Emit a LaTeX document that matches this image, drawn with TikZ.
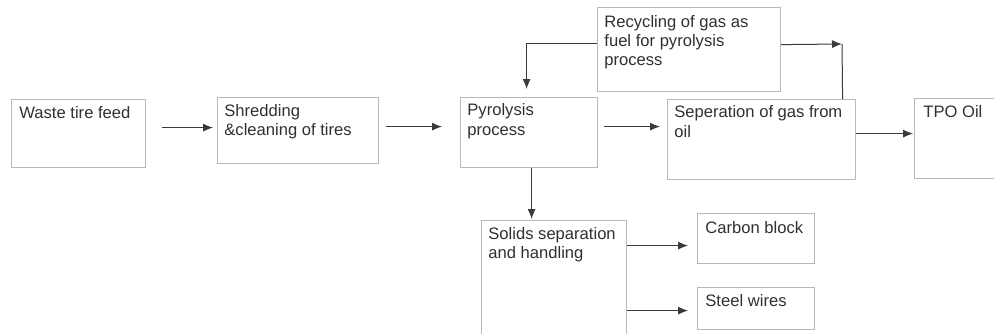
\documentclass[tikz,border=0pt]{standalone}
\usepackage{fontspec}
\setmainfont{Liberation Sans}
\usetikzlibrary{arrows.meta}
\definecolor{boxgray}{HTML}{B8B8B8}
\definecolor{txtgray}{HTML}{303030}
\definecolor{arrgray}{HTML}{3A3A3A}
\begin{document}
\begin{tikzpicture}[x=0.5pt,y=-0.5pt,
  box/.style={draw=boxgray, line width=0.6pt, rectangle, inner sep=0pt, anchor=north west},
  lbl/.style={anchor=north west, inner sep=0pt, align=left, text=txtgray,
    font=\fontsize{8.3pt}{9.6pt}\selectfont},
  arr/.style={draw=arrgray, line width=0.5pt, -{Latex[length=5pt,width=4pt]}},
  ln/.style={draw=arrgray, line width=0.5pt}]
\useasboundingbox (0,0) rectangle (994,333);
\begin{scope}
\clip (0,0) rectangle (994,333);
% boxes
\node[box, minimum width=67pt, minimum height=34pt] (feed) at (11,99) {};
\node[box, minimum width=80.5pt, minimum height=33pt] (shred) at (217,97) {};
\node[box, minimum width=68.5pt, minimum height=35pt] (pyr) at (460,97) {};
\node[box, minimum width=91.5pt, minimum height=42pt] (rec) at (597,7) {};
\node[box, minimum width=94pt, minimum height=40pt] (sep) at (667,99) {};
\node[box, minimum width=48pt, minimum height=40pt] (tpo) at (914,98) {};
\node[box, minimum width=72.5pt, minimum height=62.5pt] (sol) at (481,220) {};
\node[box, minimum width=58.5pt, minimum height=25pt] (carb) at (697,213) {};
\node[box, minimum width=58.5pt, minimum height=21pt] (steel) at (697,287) {};
% labels
\node[lbl] (tfeed) at ([xshift=4pt,yshift=-2.78pt]feed.north west) {\strut Waste tire feed};
\node[lbl] (tshred) at ([xshift=3.5pt,yshift=-2.78pt]shred.north west) {\strut Shredding\\\&cleaning of tires};
\node[lbl] (tpyr) at ([xshift=3.5pt,yshift=-2.48pt]pyr.north west) {\strut Pyrolysis\\process};
\node[lbl] (trec) at ([xshift=3.5pt,yshift=-3.28pt]rec.north west) {\strut Recycling of gas as\\fuel for pyrolysis\\process};
\node[lbl] (tsep) at ([xshift=3.5pt,yshift=-2.48pt]sep.north west) {\strut Seperation of gas from\\oil};
\node[lbl] (ttpo) at ([xshift=4.5pt,yshift=-2.78pt]tpo.north west) {\strut TPO Oil};
\node[lbl] (tsol) at ([xshift=3.5pt,yshift=-2.78pt]sol.north west) {\strut Solids separation\\and handling};
\node[lbl] (tcarb) at ([xshift=4pt,yshift=-3.28pt]carb.north west) {\strut Carbon block};
\node[lbl] (tsteel) at ([xshift=4pt,yshift=-2.78pt]steel.north west) {\strut Steel wires};
% connectors
\draw[arr] ([xshift=8pt,yshift=3pt]feed.east) -- ([xshift=-2pt,yshift=1.5pt]shred.west);
\draw[arr] ([xshift=3.5pt,yshift=2pt]shred.east) -- ([xshift=-9pt,yshift=3pt]pyr.west);
\draw[arr] ([xshift=3pt,yshift=3pt]pyr.east) -- ([xshift=-3.5pt,yshift=6.5pt]sep.west);
\draw[arr] ([yshift=3pt]sep.east) -- ([xshift=-0.5pt,yshift=2.5pt]tpo.west);
\draw[arr] ([yshift=3pt]rec.west) -| ([xshift=-1.25pt,yshift=4pt]pyr.north);
\coordinate (corner) at (842,44);
\draw[ln] (corner) -- ([xshift=40.5pt]sep.north);
\draw[arr] ([yshift=2.5pt]rec.east) -- (corner);
\draw[arr] ([xshift=1.25pt]pyr.south) -- ([xshift=-11.25pt,yshift=0.5pt]sol.north);
\draw[arr] ([yshift=18.75pt]sol.east) -- ([xshift=-4.5pt,yshift=-3.5pt]carb.west);
\draw[arr] ([yshift=-13.75pt]sol.east) -- ([xshift=-4.5pt,yshift=-1pt]steel.west);
\end{scope}
\end{tikzpicture}
\end{document}
